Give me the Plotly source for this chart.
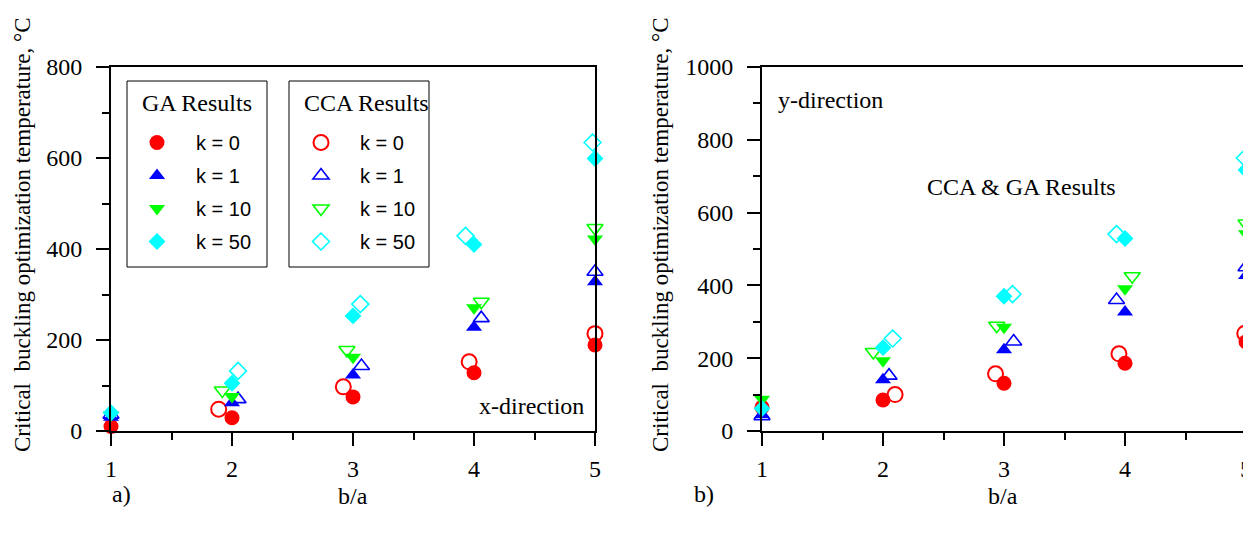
import plotly.graph_objects as go

W, H = 1251, 535
OFF = 8  # page body margin

# ---------------- data ----------------
ba = [1, 2, 3, 4, 5]
k_labels = ["k = 0", "k = 1", "k = 10", "k = 50"]

# a) x-direction
ga_x_k0 = [10, 29, 75, 128, 189]
ga_x_k1 = [30, 62, 123, 228, 328]
ga_x_k10 = [35, 76, 162, 271, 422]
ga_x_k50 = [40, 105, 253, 410, 599]
cca_x_k0_ba = [0.98, 1.89, 2.92, 3.96, 5.0]
cca_x_k0 = [32, 48, 97, 152, 214]
cca_x_k1_ba = [1.0, 2.05, 3.07, 4.06, 5.0]
cca_x_k1 = [36, 70, 143, 248, 350]
cca_x_k10_ba = [0.98, 1.92, 2.95, 4.06, 5.0]
cca_x_k10 = [46, 89, 178, 284, 446]
cca_x_k50_ba = [0.99, 2.05, 3.06, 3.93, 4.98]
cca_x_k50 = [67, 132, 279, 429, 634]

# b) y-direction
ga_y_k0 = [65, 85, 131, 186, 245]
ga_y_k1 = [45, 141, 223, 327, 427]
ga_y_k10 = [87, 193, 285, 391, 542]
ga_y_k50 = [62, 229, 370, 529, 717]
cca_y_k0_ba = [0.97, 2.10, 2.93, 3.95, 4.99]
cca_y_k0 = [39, 100, 157, 212, 268]
cca_y_k1_ba = [1.0, 2.05, 3.08, 3.93, 5.0]
cca_y_k1 = [41, 152, 246, 360, 450]
cca_y_k10_ba = [0.95, 1.92, 2.94, 4.06, 5.0]
cca_y_k10 = [60, 217, 289, 425, 570]
cca_y_k50_ba = [0.96, 2.08, 3.07, 3.93, 4.99]
cca_y_k50 = [62, 254, 376, 541, 750]

colors = ["#FF0000", "#0000FF", "#00FF00", "#00FFFF"]
ga_symbols = ["circle", "triangle-up", "triangle-down", "diamond"]
cca_symbols = ["circle-open", "triangle-up-open", "triangle-down-open", "diamond-open"]
sizes = [15, 14, 14, 13]
open_widths = [2, 1.6, 1.6, 1.6]

SERIF = "Liberation Serif, Times New Roman, serif"
SANS = "Liberation Sans, Arial, sans-serif"

def px(x):
    return (x - OFF) / W

def py(y):
    return 1 - (y - OFF) / H

fig = go.Figure()

ga_x = [ga_x_k0, ga_x_k1, ga_x_k10, ga_x_k50]
ga_y = [ga_y_k0, ga_y_k1, ga_y_k10, ga_y_k50]
cca_x = [(cca_x_k0_ba, cca_x_k0), (cca_x_k1_ba, cca_x_k1), (cca_x_k10_ba, cca_x_k10), (cca_x_k50_ba, cca_x_k50)]
cca_y = [(cca_y_k0_ba, cca_y_k0), (cca_y_k1_ba, cca_y_k1), (cca_y_k10_ba, cca_y_k10), (cca_y_k50_ba, cca_y_k50)]

for i in range(4):
    fig.add_trace(go.Scatter(
        x=cca_x[i][0], y=cca_x[i][1], mode="markers", name=k_labels[i],
        legend="legend2", legendgroup="c%d" % i, showlegend=True,
        marker=dict(symbol=cca_symbols[i], size=sizes[i], color=colors[i],
                    line=dict(width=open_widths[i], color=colors[i])),
        cliponaxis=False, xaxis="x", yaxis="y"))
    fig.add_trace(go.Scatter(
        x=cca_y[i][0], y=cca_y[i][1], mode="markers", name=k_labels[i],
        showlegend=False,
        marker=dict(symbol=cca_symbols[i], size=sizes[i], color=colors[i],
                    line=dict(width=open_widths[i], color=colors[i])),
        cliponaxis=False, xaxis="x2", yaxis="y2"))
for i in range(4):
    fig.add_trace(go.Scatter(
        x=ba, y=ga_x[i], mode="markers", name=k_labels[i],
        legend="legend", legendgroup="g%d" % i, showlegend=True,
        marker=dict(symbol=ga_symbols[i], size=sizes[i], color=colors[i], line=dict(width=0)),
        cliponaxis=False, xaxis="x", yaxis="y"))
    fig.add_trace(go.Scatter(
        x=ba, y=ga_y[i], mode="markers", name=k_labels[i],
        showlegend=False,
        marker=dict(symbol=ga_symbols[i], size=sizes[i], color=colors[i], line=dict(width=0)),
        cliponaxis=False, xaxis="x2", yaxis="y2"))

tickfont = dict(family=SERIF, size=24, color="black")
xax = dict(range=[1, 5], tickmode="linear", tick0=1, dtick=1, ticks="outside", ticklen=13,
           tickwidth=2, tickcolor="black", showline=True, linewidth=2, linecolor="black",
           mirror=True, showgrid=False, zeroline=False, tickfont=tickfont,
           ticklabelstandoff=2, automargin=False,
           minor=dict(dtick=0.5, tick0=1, ticks="outside", ticklen=7, tickwidth=2, tickcolor="black", showgrid=False))
def yax(top):
    return dict(range=[0, top], tickmode="linear", tick0=0, dtick=200, ticks="outside", ticklen=13,
                tickwidth=2, tickcolor="black", showline=True, linewidth=2, linecolor="black",
                mirror=True, showgrid=False, zeroline=False, tickfont=tickfont,
                ticklabelstandoff=9, automargin=False,
                minor=dict(dtick=100, tick0=0, ticks="outside", ticklen=7, tickwidth=2, tickcolor="black", showgrid=False))

legend_common = dict(xanchor="left", yanchor="top", bgcolor="rgba(0,0,0,0)", borderwidth=0,
                     itemwidth=68, tracegroupgap=4, traceorder="grouped",
                     font=dict(family=SANS, size=20, color="black"))

fig.update_layout(
    width=W, height=H, margin=dict(l=0, r=0, t=0, b=0, pad=0, autoexpand=False),
    paper_bgcolor="white", plot_bgcolor="white",
    xaxis=dict(domain=[px(111), px(595)], anchor="y", **xax),
    yaxis=dict(domain=[py(431), py(67)], anchor="x", **yax(800)),
    xaxis2=dict(domain=[px(762), px(1246)], anchor="y2", **xax),
    yaxis2=dict(domain=[py(431), py(67)], anchor="x2", **yax(1000)),
    legend=dict(x=px(118), y=py(123), **legend_common),
    legend2=dict(x=px(282), y=py(123), **legend_common),
    showlegend=True,
)

# legend boxes
for x0, x1 in [(127, 267), (289, 429)]:
    fig.add_shape(type="rect", xref="paper", yref="paper", x0=px(x0), x1=px(x1),
                  y0=py(267), y1=py(81), line=dict(color="black", width=1), fillcolor="rgba(0,0,0,0)")

def ann(text, x, y, size=24, family=SERIF, angle=0, xanchor="center"):
    fig.add_annotation(text=text, x=px(x), y=py(y), xref="paper", yref="paper",
                       showarrow=False, textangle=angle, xanchor=xanchor, yanchor="middle",
                       font=dict(family=family, size=size, color="black"))

ann("GA Results", 197, 103)
ann("CCA Results", 367, 103)
ann("x-direction", 586, 406, xanchor="right")
ann("y-direction", 776, 100, xanchor="left")
ann("CCA &amp; GA Results", 1021, 187)
ytitle = "Critical\u00a0 buckling optimization temperature, \u00b0C"
ann(ytitle, 22, 235, size=23, angle=-90)
ann(ytitle, 660, 235, size=23, angle=-90)
ann("b/a", 353, 496)
ann("b/a", 1003, 496)
ann("a)", 121, 494)
ann("b)", 704, 494)

fig.write_html("out.html")
